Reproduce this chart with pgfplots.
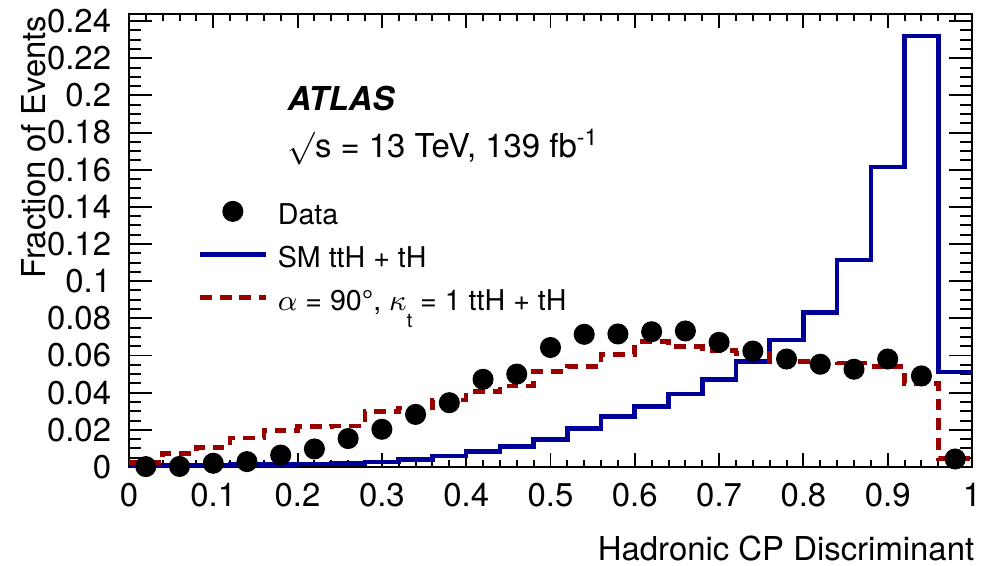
\documentclass[border=0pt]{standalone}
\usepackage{pgfplots}
\pgfplotsset{compat=1.18}
\usepackage{fontspec}
\setmainfont{TeX Gyre Heros}
\definecolor{smblue}{RGB}{0,0,153}
\definecolor{cpred}{RGB}{153,0,0}

\begin{document}
\begin{tikzpicture}
\begin{axis}[
  scale only axis,
  width=256.3pt, height=137.7pt,
  xmin=0, xmax=1, ymin=0, ymax=0.2438,
  xtick={0,0.1,0.2,0.3,0.4,0.5,0.6,0.7,0.8,0.9,1},
  ytick={0,0.02,0.04,0.06,0.08,0.1,0.12,0.14,0.16,0.18,0.2,0.22,0.24},
  minor x tick num=4, minor y tick num=3,
  tick align=inside,
  tick style={black, line width=0.6pt},
  xtick style={/pgfplots/major tick length=4.3pt, /pgfplots/minor tick length=2.1pt},
  ytick style={/pgfplots/major tick length=7pt, /pgfplots/minor tick length=3.6pt},
  axis line style={line width=0.8pt},
  scaled x ticks=false, scaled y ticks=false,
  /pgf/number format/.cd, fixed, precision=2, assume math mode=true,
  /pgfplots/.cd,
  yticklabel style={xshift=-1.9pt},
  xticklabel style={yshift=-1.3pt},
  xlabel={Hadronic CP Discriminant},
  xlabel style={at={(rel axis cs:1,0)}, anchor=north east, yshift=-17.4pt, xshift=4.2pt},
  ylabel={Fraction of Events},
  ylabel style={at={([xshift=-25.5pt,yshift=3pt]rel axis cs:0,1)}, anchor=base east},
  legend image code/.code={\draw[mark repeat=2,mark phase=2,#1] plot coordinates {(0pt,0pt) (10pt,0pt) (20pt,0pt)};},
  legend cell align=left,
  legend style={draw=none, fill=none, inner sep=0pt, row sep=2.1pt, column sep=3pt,
    at={(rel axis cs:0.0807,0.6055)}, anchor=north west,
    nodes={inner sep=0pt}, font=\fontsize{8.7}{10}\selectfont},
]
\addplot[only marks, mark=*, mark size=3pt, black] coordinates {
  (0.02,0.0002) (0.06,0.0003) (0.10,0.0020) (0.14,0.0029) (0.18,0.0064)
  (0.22,0.0097) (0.26,0.0153) (0.30,0.0203) (0.34,0.0283) (0.38,0.0346)
  (0.42,0.0472) (0.46,0.0500) (0.50,0.0643) (0.54,0.0714) (0.58,0.0716)
  (0.62,0.0728) (0.66,0.0732) (0.70,0.0671) (0.74,0.0624) (0.78,0.0581)
  (0.82,0.0553) (0.86,0.0526) (0.90,0.0581) (0.94,0.0490) (0.98,0.0043)
};
\addlegendentry{\rule[-3.5pt]{0pt}{12.95pt}Data}
\addplot[smblue, line width=1.4pt, const plot] coordinates {
  (0.00,0.0008) (0.04,0.0008) (0.08,0.0010) (0.12,0.0012) (0.16,0.0013)
  (0.20,0.0015) (0.24,0.0020) (0.28,0.0027) (0.32,0.0041) (0.36,0.0059)
  (0.40,0.0082) (0.44,0.0110) (0.48,0.0149) (0.52,0.0206) (0.56,0.0272)
  (0.60,0.0324) (0.64,0.0392) (0.68,0.0470) (0.72,0.0567) (0.76,0.0683)
  (0.80,0.0830) (0.84,0.1114) (0.88,0.1614) (0.92,0.2320) (0.96,0.0511)
  (1.00,0.0511)
};
\addlegendentry{\rule[-3.5pt]{0pt}{12.95pt}SM ttH + tH}
\addplot[cpred, line width=1.4pt, dash pattern=on 3.6pt off 2.4pt, const plot] coordinates {
  (0.00,0.0025) (0.04,0.0074) (0.08,0.0106) (0.12,0.0155) (0.16,0.0197)
  (0.20,0.0218) (0.24,0.0220) (0.28,0.0300) (0.32,0.0318) (0.36,0.0361)
  (0.40,0.0405) (0.44,0.0436) (0.48,0.0514) (0.52,0.0540) (0.56,0.0607)
  (0.60,0.0674) (0.64,0.0647) (0.68,0.0626) (0.72,0.0612) (0.76,0.0567)
  (0.80,0.0567) (0.84,0.0560) (0.88,0.0540) (0.92,0.0450) (0.96,0.0047)
  (1.00,0.0047)
};
\addlegendentry{\rule[-3.5pt]{0pt}{12.95pt}$\alpha$ = 90°, $\kappa$\raisebox{-5.2pt}[0pt][0pt]{\fontsize{6}{7}\selectfont t} = 1 ttH + tH}
\node[anchor=base west, inner sep=0pt, font=\bfseries\itshape] at (rel axis cs:0.1874,0.788) {ATLAS};
\node[anchor=base west, inner sep=0pt] at (rel axis cs:0.1874,0.684) {\smash{$\surd$}s = 13 TeV, 139 fb\textsuperscript{-1}};
\end{axis}
\pgfresetboundingbox
\useasboundingbox ([shift={(-39.2pt,-30.1pt)}]current axis.south west) rectangle ([shift={(5.47pt,4.26pt)}]current axis.north east);
\end{tikzpicture}
\end{document}
